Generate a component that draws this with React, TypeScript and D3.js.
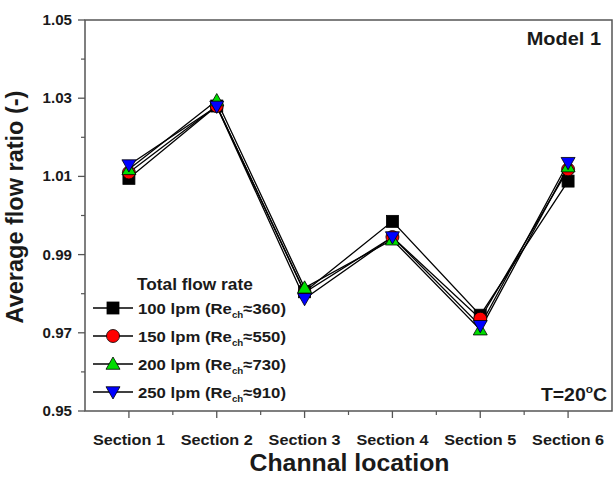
import React from "react";
import * as d3 from "d3";

const sections = ["Section 1", "Section 2", "Section 3", "Section 4", "Section 5", "Section 6"];

const flow100 = [1.0095, 1.028, 0.9805, 0.9985, 0.9745, 1.0088];
const flow150 = [1.011, 1.028, 0.9803, 0.9945, 0.9736, 1.0118];
const flow200 = [1.0118, 1.0294, 0.9815, 0.9938, 0.9708, 1.0125];
const flow250 = [1.0129, 1.0279, 0.9787, 0.9945, 0.9718, 1.0135];

const yTicks = [0.95, 0.97, 0.99, 1.01, 1.03, 1.05];
const yMinor = [0.96, 0.98, 1.0, 1.02, 1.04];

const series = [
  { lpm: "100", re: "360", values: flow100, shape: "square", color: "#000000" },
  { lpm: "150", re: "550", values: flow150, shape: "circle", color: "#ff0000" },
  { lpm: "200", re: "730", values: flow200, shape: "up", color: "#00dd00" },
  { lpm: "250", re: "910", values: flow250, shape: "down", color: "#0000ff" },
];

const font = "'Liberation Sans', Arial, sans-serif";
const ink = "#1a1a1a";
const axisColor = "#555";
const sx = 1.08; // glyphs are a touch wider than tall

const Marker = ({ shape, color, x, y }: { shape: string; color: string; x: number; y: number }) => {
  const s = 6;
  if (shape === "square")
    return <rect x={x - s} y={y - s} width={2 * s} height={2 * s} fill={color} stroke="#000" strokeWidth={0.8} />;
  if (shape === "circle") return <circle cx={x} cy={y} r={s + 0.5} fill={color} stroke="#000" strokeWidth={0.8} />;
  const h = 7;
  const pts =
    shape === "up"
      ? `${x},${y - h} ${x + h},${y + h * 0.75} ${x - h},${y + h * 0.75}`
      : `${x},${y + h} ${x + h},${y - h * 0.75} ${x - h},${y - h * 0.75}`;
  return <polygon points={pts} fill={color} stroke="#000" strokeWidth={0.8} />;
};

// horizontal label, slightly widened
const Label = ({
  x,
  y,
  size,
  anchor = "start",
  children,
}: {
  x: number;
  y: number;
  size: number;
  anchor?: string;
  children: React.ReactNode;
}) => (
  <text
    transform={`translate(${x},${y}) scale(${sx},1)`}
    textAnchor={anchor}
    fontSize={size}
    fontWeight="bold"
    fill={ink}
  >
    {children}
  </text>
);

const App: React.FC = () => {
  const width = 614;
  const height = 478;
  const margin = { top: 20, right: 2, bottom: 67, left: 85 };
  const x0 = margin.left;
  const x1 = width - margin.right;
  const y0 = margin.top;
  const y1 = height - margin.bottom;

  const x = d3.scaleLinear().domain([0.5, 6.5]).range([x0, x1]);
  const y = d3.scaleLinear().domain([0.95, 1.05]).range([y1, y0]);

  const line = d3
    .line<number>()
    .x((_, i) => x(i + 1))
    .y((d) => y(d));

  const xMinor = d3.range(1.5, 6.5, 1);

  const legendX = 93;
  const legendRows = [308, 336, 364, 392];

  return (
    <svg
      width={width}
      height={height}
      style={{ position: "absolute", left: 0, top: 0, background: "#fff" }}
      fontFamily={font}
    >
      {/* frame */}
      <rect x={x0} y={y0} width={x1 - x0} height={y1 - y0} fill="none" stroke={axisColor} strokeWidth={1.5} />

      {/* y axis ticks and labels */}
      {yTicks.map((t) => (
        <g key={t}>
          <line x1={x0 - 7} x2={x0} y1={y(t)} y2={y(t)} stroke={axisColor} strokeWidth={1.3} />
          <Label x={x0 - 13} y={y(t) + 5} size={14} anchor="end">
            {t.toFixed(2)}
          </Label>
        </g>
      ))}
      {yMinor.map((t) => (
        <line key={t} x1={x0 - 4} x2={x0} y1={y(t)} y2={y(t)} stroke={axisColor} strokeWidth={1.2} />
      ))}

      {/* x axis ticks and labels */}
      {sections.map((s, i) => (
        <g key={s}>
          <line x1={x(i + 1)} x2={x(i + 1)} y1={y1} y2={y1 + 7} stroke={axisColor} strokeWidth={1.3} />
          <Label x={x(i + 1)} y={y1 + 34} size={15} anchor="middle">
            {s}
          </Label>
        </g>
      ))}
      {xMinor.map((t) => (
        <line key={t} x1={x(t)} x2={x(t)} y1={y1} y2={y1 + 4} stroke={axisColor} strokeWidth={1.2} />
      ))}

      {/* axis titles */}
      <Label x={(x0 + x1) / 2 + 1} y={471} size={23} anchor="middle">
        Channal location
      </Label>
      <text
        transform={`translate(23, ${207}) rotate(-90)`}
        textAnchor="middle"
        fontSize={23.5}
        fontWeight="bold"
        fill={ink}
      >
        Average flow ratio (-)
      </text>

      {/* series lines */}
      {series.map((s) => (
        <path key={s.lpm + "l"} d={line(s.values) || ""} fill="none" stroke="#000" strokeWidth={1.3} />
      ))}
      {/* series markers */}
      {series.map((s) =>
        s.values.map((v, i) => <Marker key={s.lpm + i} shape={s.shape} color={s.color} x={x(i + 1)} y={y(v)} />)
      )}

      {/* annotations */}
      <Label x={601} y={45} size={18.5} anchor="end">
        Model 1
      </Label>
      <Label x={607} y={401} size={18} anchor="end">
        T=20<tspan dy={-8} fontSize={11}>o</tspan>
        <tspan dy={8}>C</tspan>
      </Label>

      {/* legend */}
      <Label x={137} y={290} size={16}>
        Total flow rate
      </Label>
      {series.map((s, i) => {
        const ly = legendRows[i];
        return (
          <g key={s.lpm + "leg"}>
            <line x1={legendX} x2={legendX + 40} y1={ly} y2={ly} stroke="#000" strokeWidth={1.3} />
            <Marker shape={s.shape} color={s.color} x={legendX + 20} y={ly} />
            <Label x={138} y={ly + 5.5} size={15.5}>
              {s.lpm} lpm (Re
              <tspan dy={4} fontSize={9}>
                ch
              </tspan>
              <tspan dy={-4}>≈{s.re})</tspan>
            </Label>
          </g>
        );
      })}
    </svg>
  );
};

export default App;
